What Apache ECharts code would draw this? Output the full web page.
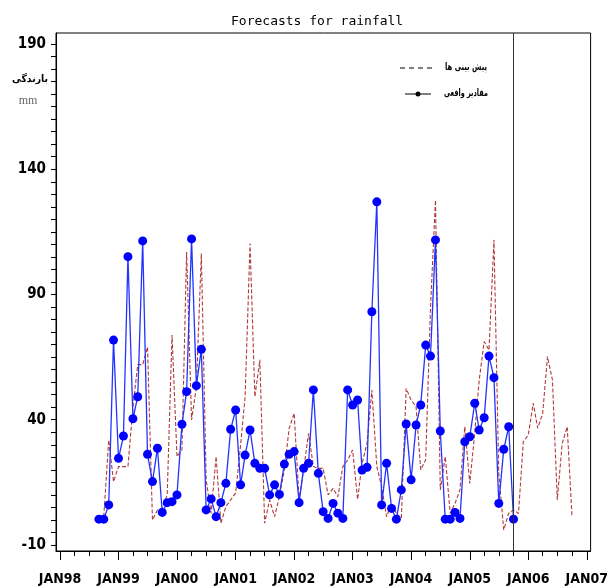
<!DOCTYPE html>
<html>
<head>
<meta charset="utf-8">
<script src="https://cdn.jsdelivr.net/npm/echarts@6/dist/echarts.min.js"></script>
<style>
html,body{margin:0;padding:0;background:#fff;}
#chart{width:611px;height:587px;}
</style>
</head>
<body>
<div id="chart"></div>
<script>
// Shared monthly categories (1998-09 .. 2006-10)
const months = [
 '1998-09','1998-10','1998-11','1998-12',
 '1999-01','1999-02','1999-03','1999-04','1999-05','1999-06','1999-07','1999-08','1999-09','1999-10','1999-11','1999-12',
 '2000-01','2000-02','2000-03','2000-04','2000-05','2000-06','2000-07','2000-08','2000-09','2000-10','2000-11','2000-12',
 '2001-01','2001-02','2001-03','2001-04','2001-05','2001-06','2001-07','2001-08','2001-09','2001-10','2001-11','2001-12',
 '2002-01','2002-02','2002-03','2002-04','2002-05','2002-06','2002-07','2002-08','2002-09','2002-10','2002-11','2002-12',
 '2003-01','2003-02','2003-03','2003-04','2003-05','2003-06','2003-07','2003-08','2003-09','2003-10','2003-11','2003-12',
 '2004-01','2004-02','2004-03','2004-04','2004-05','2004-06','2004-07','2004-08','2004-09','2004-10','2004-11','2004-12',
 '2005-01','2005-02','2005-03','2005-04','2005-05','2005-06','2005-07','2005-08','2005-09','2005-10','2005-11','2005-12',
 '2006-01','2006-02','2006-03','2006-04','2006-05','2006-06','2006-07','2006-08','2006-09','2006-10'
];

// Actual values (مقادیر واقعی), 1998-09 .. 2005-10
const actualValues = [
 0.3,0.3,6,71.8,24.6,33.5,105.1,40.4,49.2,111.4,
 26.2,15.3,28.6,3,6.9,7.3,10,38.2,51.2,112.2,
 53.6,68.1,4,8.4,1.3,6.9,14.6,36.2,43.9,14,
 25.9,35.9,22.6,20.6,20.6,10,14,10.2,22.3,26.2,
 27.3,6.9,20.6,22.6,51.9,18.6,3.3,0.6,6.6,2.7,
 0.6,51.9,45.9,47.9,19.9,21,83.1,127,6,22.6,
 4.6,0.3,12,38.3,16,37.9,45.9,69.8,65.4,111.8,
 35.5,0.3,0.3,3,0.6,31.2,33.2,46.6,35.9,40.8,
 65.4,56.8,6.6,28.2,37.2,0.3
];

// Forecast values (پیش بینی ها), 1998-09 .. 2006-10 (first month empty)
const forecastValues = [
 null,
 1.3,31.9,15.3,21.3,21.3,21.3,45,62,62,69,
 0,4,4.6,10,73.8,25.3,28,107,39.9,53,
 106.4,16,2.7,25.3,-1.3,5.3,8,10.8,30,49.2,
 110.4,49.2,63.9,-1.3,8,1.3,9.3,20,36.6,42.6,
 8,20,34.6,21.3,20.6,20.6,10,12.6,9.3,21.3,
 23.9,27.9,8.2,22.6,30.6,51.9,21.3,13.3,1.3,6.6,
 2.7,0.6,52.5,47.9,45.2,20,24,85,127.7,12,
 25.3,2.7,6.6,12,37.2,14.6,34.6,55.9,71.2,67.8,
 111.8,18.7,-4,2.7,4,2.6,31.2,33.9,46.6,36.6,
 42.6,65.2,55.9,8,30.6,37.2,1.3
];

const xTickYears = [1998,1999,2000,2001,2002,2003,2004,2005,2006,2007];
const xTickLabels = ['JAN98','JAN99','JAN00','JAN01','JAN02','JAN03','JAN04','JAN05','JAN06','JAN07'];
const yTickLabels = [-10,40,90,140,190];
const cutoffMonth = '2005-10';

const seriesNames = { forecast: 'پیش بینی ها', actual: 'مقادیر واقعی' };
const titleText = 'Forecasts for rainfall';
const yTitle = 'بارندگی';
const yUnit = 'mm';

function toTime(s){ const p = s.split('-'); return Date.UTC(+p[0], +p[1]-1, 1); }

const actualData = actualValues.map((v,i)=>[toTime(months[i]), v]);
const forecastData = [];
forecastValues.forEach((v,i)=>{ if (v !== null) forecastData.push([toTime(months[i]), v]); });

const yearTicks = xTickYears.map(y=>Date.UTC(y,0,1));
const quarterTicks = [];
for (let y = 1998; y <= 2006; y++) for (let q = 0; q < 12; q += 3) quarterTicks.push(Date.UTC(y,q,1));
quarterTicks.push(Date.UTC(2007,0,1));
const yMinorTicks = [];
for (let v = -10; v <= 190; v += 5) yMinorTicks.push(v);

const xMin = Date.UTC(1997,11,7), xMax = Date.UTC(2007,0,25);
const labelFont = "'Liberation Sans Narrow','DejaVu Sans Condensed','DejaVu Sans',sans-serif";
const faFont = "bold 10px 'DejaVu Sans',sans-serif";

// fit Persian text to the target widths seen in the reference
const mctx = document.createElement('canvas').getContext('2d');
function fitScale(text, font, target){
  mctx.font = font;
  const w = mctx.measureText(text).width;
  return w > 0 ? target / w : 1;
}
const sForecast = fitScale(seriesNames.forecast, faFont, 42);
const sActual = fitScale(seriesNames.actual, faFont, 44);
const sTitle = fitScale(yTitle, faFont, 36);

const chart = echarts.init(document.getElementById('chart'), null, {renderer:'canvas'});
chart.setOption({
  animation:false,
  backgroundColor:'#fff',
  title:{
    text:titleText, left:226, top:10,
    textStyle:{fontFamily:"'DejaVu Sans Mono',monospace", fontSize:13, fontWeight:'normal', color:'#000'}
  },
  grid:{left:56, right:14, top:33, bottom:36, show:true, borderColor:'#000', borderWidth:1, containLabel:false},
  xAxis:[{
    type:'value', min:xMin, max:xMax, position:'bottom',
    axisLine:{show:true, onZero:false, lineStyle:{color:'#000', width:1}},
    splitLine:{show:false},
    axisTick:{show:true, length:9, customValues:yearTicks, lineStyle:{color:'#000'}},
    axisLabel:{show:true, customValues:yearTicks, margin:21,
      formatter:(v)=>{ const i = yearTicks.indexOf(v); return i >= 0 ? xTickLabels[i] : ''; },
      fontFamily:labelFont, fontWeight:'bold', fontSize:14, color:'#000'}
  },{
    type:'value', min:xMin, max:xMax, position:'bottom',
    axisLine:{show:false, onZero:false}, splitLine:{show:false},
    axisTick:{show:true, length:5, customValues:quarterTicks, lineStyle:{color:'#000'}},
    axisLabel:{show:false}
  }],
  yAxis:{
    type:'value', min:-12.4, max:194.4,
    axisLine:{show:true, onZero:false, lineStyle:{color:'#000', width:1}},
    splitLine:{show:false},
    axisTick:{show:true, length:5, customValues:yMinorTicks, lineStyle:{color:'#000'}},
    axisLabel:{show:true, customValues:yTickLabels, margin:10,
      fontFamily:labelFont, fontWeight:'bold', fontSize:15, color:'#000'}
  },
  series:[{
    name:seriesNames.forecast, type:'line', data:forecastData, xAxisIndex:0,
    showSymbol:false, symbol:'none',
    lineStyle:{color:'#b03a3a', width:1.1, type:[4,2]},
    z:2
  },{
    name:seriesNames.actual, type:'line', data:actualData, xAxisIndex:0,
    symbol:'circle', symbolSize:9, showSymbol:true,
    itemStyle:{color:'#0000ff'},
    lineStyle:{color:'#2233ff', width:1.3},
    z:3,
    markLine:{
      silent:true, symbol:'none', label:{show:false},
      lineStyle:{color:'#333', type:'solid', width:1},
      data:[{xAxis:toTime(cutoffMonth)}]
    }
  }],
  graphic:[
    {type:'text', x:48, y:79, scaleX:sTitle, style:{text:yTitle, font:faFont, fill:'#000', align:'right', verticalAlign:'middle'}},
    {type:'text', x:28, y:101, style:{text:yUnit, font:"12px 'Liberation Serif',serif", fill:'#666', align:'center', verticalAlign:'middle'}},
    {type:'line', shape:{x1:400,y1:68,x2:433,y2:68}, style:{stroke:'#000', lineWidth:1, lineDash:[5,4]}},
    {type:'text', x:487, y:67, scaleX:sForecast, style:{text:seriesNames.forecast, font:faFont, fill:'#000', align:'right', verticalAlign:'middle'}},
    {type:'line', shape:{x1:405,y1:94,x2:431,y2:94}, style:{stroke:'#000', lineWidth:1}},
    {type:'circle', shape:{cx:418, cy:94, r:2.5}, style:{fill:'#000'}},
    {type:'text', x:488, y:93, scaleX:sActual, style:{text:seriesNames.actual, font:faFont, fill:'#000', align:'right', verticalAlign:'middle'}}
  ]
});
</script>
</body>
</html>
